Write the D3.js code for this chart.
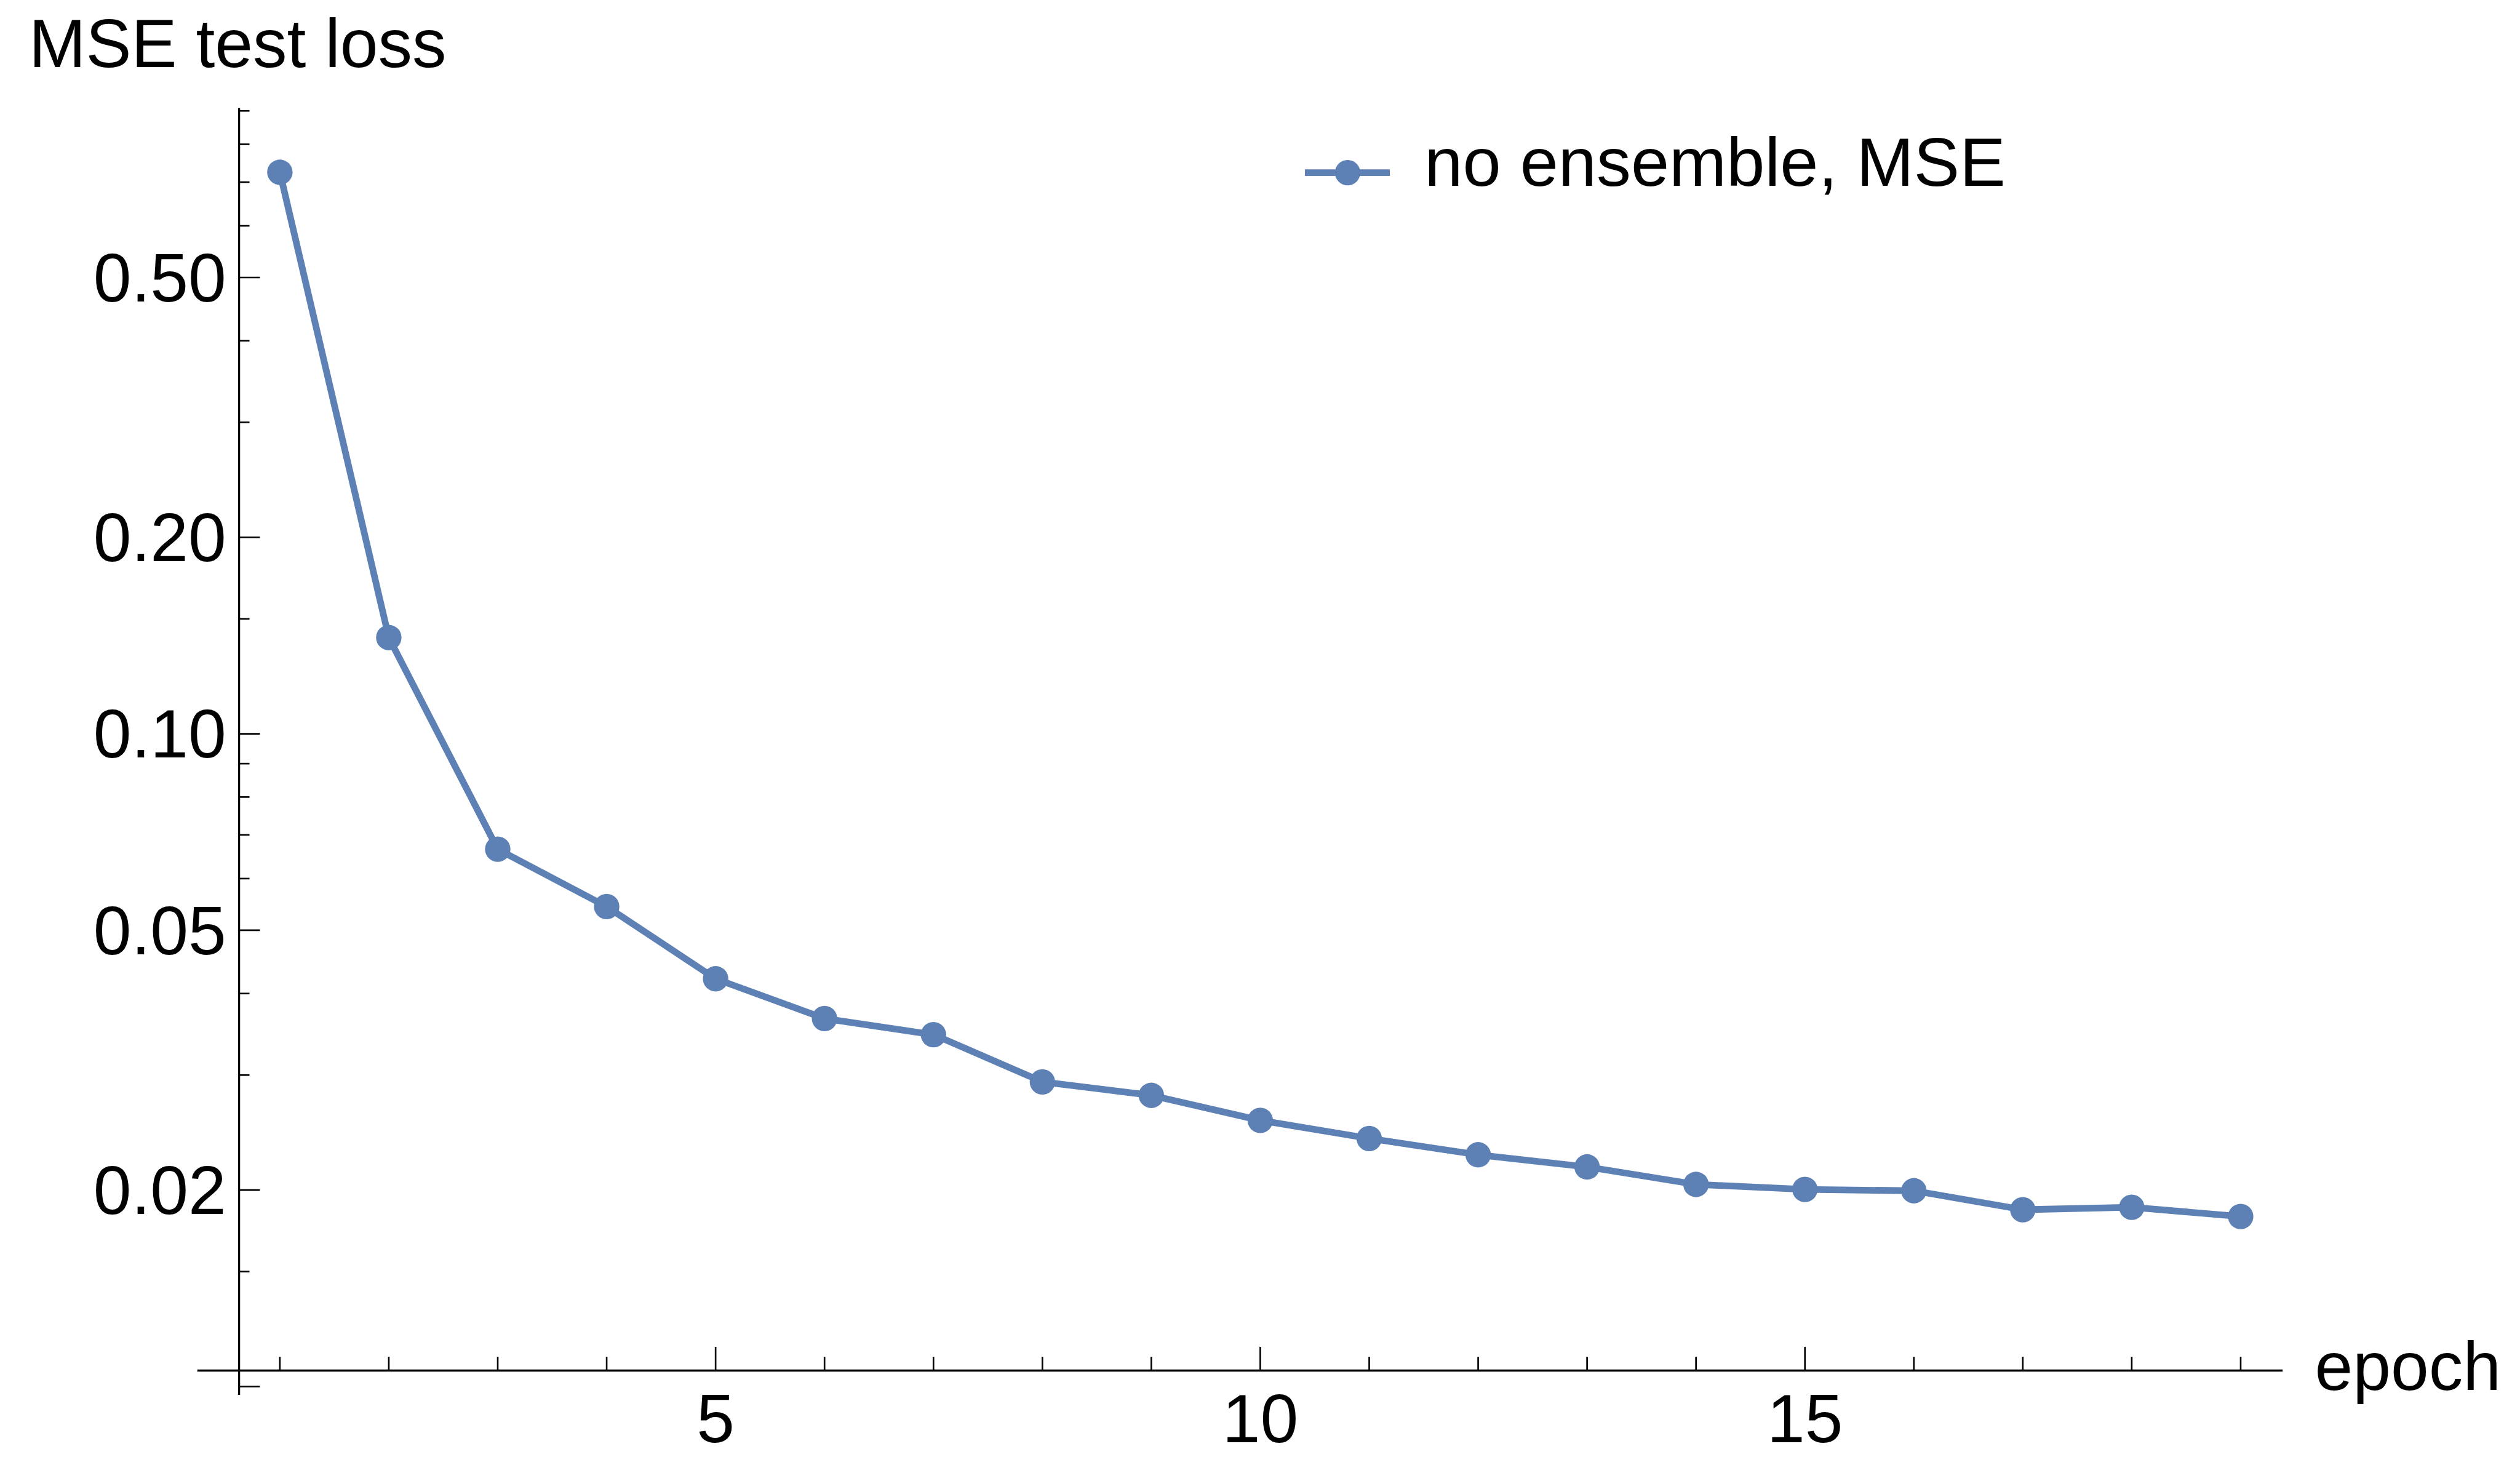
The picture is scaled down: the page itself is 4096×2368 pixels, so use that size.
<!DOCTYPE html>
<html>
<head>
<meta charset="utf-8">
<script src="https://cdn.jsdelivr.net/npm/d3@7"></script>
<style>
  html, body { margin: 0; padding: 0; background: #fff; }
  svg { display: block; }
  text { font-family: "Liberation Sans", Arial, Helvetica, sans-serif; fill: #000; }
</style>
</head>
<body>
<svg id="chart" width="4096" height="2368"></svg>
<script>
// Test loss per training epoch
const epochs = [1, 2, 3, 4, 5, 6, 7, 8, 9, 10, 11, 12, 13, 14, 15, 16, 17, 18, 19];
const mseLoss = [0.7248, 0.1404, 0.06655, 0.05436, 0.04214, 0.03662, 0.03460, 0.02929, 0.02793,
                 0.02557, 0.02399, 0.02265, 0.02170, 0.02040, 0.02004, 0.01995, 0.01866, 0.01882, 0.01822];
const seriesName = "no ensemble, MSE";

// Axis ticks
const xMajorTicks = [5, 10, 15];
const xMinorTicks = [1, 2, 3, 4, 6, 7, 8, 9, 11, 12, 13, 14, 16, 17, 18, 19];
const yMajorTicks = [0.01, 0.02, 0.05, 0.1, 0.2, 0.5];
const yTickLabels = ["0.02", "0.05", "0.10", "0.20", "0.50"];
const yLabelledTicks = [0.02, 0.05, 0.1, 0.2, 0.5];
const yMinorTicks = [0.015, 0.03, 0.04, 0.06, 0.07, 0.08, 0.09, 0.15, 0.3, 0.4, 0.6, 0.7, 0.8, 0.9];

// Axis extents (data units)
const xAxisFrom = 0.242, xAxisTo = 19.385, yAxisAtX = 0.6255;
const yAxisFrom = 0.00971, yAxisTo = 0.9086, xAxisAtY = 0.01058;

const S = 0.771;
const blue = "#5E81B5";
const fontSize = 144 * S;

const svg = d3.select("#chart");
svg.append("rect").attr("width", 4096).attr("height", 2368).attr("fill", "#fff");

const x = d3.scaleLinear().domain([1, 19]).range([590 * S, 4723.7 * S]);
const y = d3.scaleLog().domain([0.01, 0.5]).range([(585 + 1376 * Math.log10(50)) * S, 585 * S]);

const axisW = 4.3 * S, tickW = 3.4 * S;
const g = svg.append("g");

// Y axis line
g.append("line")
  .attr("x1", x(yAxisAtX)).attr("x2", x(yAxisAtX))
  .attr("y1", y(yAxisTo)).attr("y2", y(yAxisFrom))
  .attr("stroke", "#000").attr("stroke-width", axisW);

// X axis line
g.append("line")
  .attr("x1", x(xAxisFrom)).attr("x2", x(xAxisTo))
  .attr("y1", y(xAxisAtY)).attr("y2", y(xAxisAtY))
  .attr("stroke", "#000").attr("stroke-width", axisW);

// Y ticks (pointing into the plot)
const yMajLen = 44 * S, yMinLen = 22 * S;
g.selectAll(".ymaj").data(yMajorTicks).join("line")
  .attr("x1", x(yAxisAtX)).attr("x2", x(yAxisAtX) + yMajLen)
  .attr("y1", d => y(d)).attr("y2", d => y(d))
  .attr("stroke", "#000").attr("stroke-width", tickW);
g.selectAll(".ymin").data(yMinorTicks).join("line")
  .attr("x1", x(yAxisAtX)).attr("x2", x(yAxisAtX) + yMinLen)
  .attr("y1", d => y(d)).attr("y2", d => y(d))
  .attr("stroke", "#000").attr("stroke-width", tickW);

g.selectAll(".ylab").data(yLabelledTicks).join("text")
  .attr("x", x(yAxisAtX) - 27 * S)
  .attr("y", d => y(d))
  .attr("dy", "0.35em")
  .attr("text-anchor", "end")
  .attr("font-size", fontSize)
  .text((d, i) => yTickLabels[i]);

// X ticks (pointing up)
const xMajLen = 50 * S, xMinLen = 29 * S;
const x0 = y(xAxisAtY);
g.selectAll(".xmaj").data(xMajorTicks).join("line")
  .attr("x1", d => x(d)).attr("x2", d => x(d))
  .attr("y1", x0).attr("y2", x0 - xMajLen)
  .attr("stroke", "#000").attr("stroke-width", tickW);
g.selectAll(".xmin").data(xMinorTicks).join("line")
  .attr("x1", d => x(d)).attr("x2", d => x(d))
  .attr("y1", x0).attr("y2", x0 - xMinLen)
  .attr("stroke", "#000").attr("stroke-width", tickW);

g.selectAll(".xlab").data(xMajorTicks).join("text")
  .attr("x", d => x(d))
  .attr("y", x0 + 151 * S)
  .attr("text-anchor", "middle")
  .attr("font-size", fontSize)
  .text(d => d);

// Axis labels
svg.append("text")
  .attr("x", 61 * S).attr("y", 142 * S)
  .attr("font-size", fontSize)
  .text("MSE test loss");
svg.append("text")
  .attr("x", 4880 * S).attr("y", 2930 * S)
  .attr("font-size", fontSize)
  .text("epoch");

// Series line and points
const pts = epochs.map((e, i) => [e, mseLoss[i]]);
const line = d3.line().x(d => x(d[0])).y(d => y(d[1]));
const lineW = 14 * S, r = 26.8 * S;
svg.append("path")
  .datum(pts)
  .attr("d", line)
  .attr("fill", "none")
  .attr("stroke", blue)
  .attr("stroke-width", lineW)
  .attr("stroke-linejoin", "round");
svg.selectAll(".pt").data(pts).join("circle")
  .attr("cx", d => x(d[0])).attr("cy", d => y(d[1]))
  .attr("r", r).attr("fill", blue);

// Legend
const leg = svg.append("g");
leg.append("line")
  .attr("x1", 2751 * S).attr("x2", 2930 * S)
  .attr("y1", 364 * S).attr("y2", 364 * S)
  .attr("stroke", blue).attr("stroke-width", lineW);
leg.append("circle")
  .attr("cx", 2841 * S).attr("cy", 364 * S).attr("r", r).attr("fill", blue);
leg.append("text")
  .attr("x", 3003 * S).attr("y", 392 * S)
  .attr("font-size", 145 * S)
  .text(seriesName);
</script>
</body>
</html>
